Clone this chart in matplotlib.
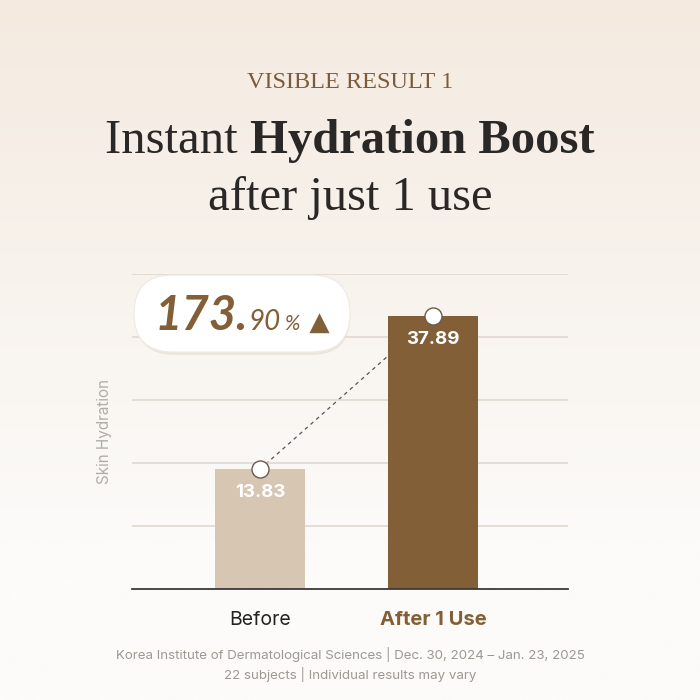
import numpy as np
import matplotlib
matplotlib.use("Agg")
import matplotlib.pyplot as plt
from matplotlib.patches import FancyBboxPatch
from matplotlib.offsetbox import TextArea, HPacker, AnnotationBbox

categories = ["Before", "After 1 Use"]
values = [13.83, 37.89]
increase_whole = "173"
increase_frac = ".90"
y_label = "Skin Hydration"
footer = ["Korea Institute of Dermatological Sciences | Dec. 30, 2024 \u2013 Jan. 23, 2025",
          "22 subjects | Individual results may vary"]

brown = "#835f38"
light = "#d6c6b2"
sans = ["Inter", "DejaVu Sans"]
serif = ["Liberation Serif", "DejaVu Serif"]

fig = plt.figure(figsize=(7, 7), dpi=100)

# background gradient, beige at top to off-white at bottom
bg = fig.add_axes([0, 0, 1, 1])
grad = np.linspace(0, 1, 256).reshape(-1, 1)
top_c = np.array([0xf4, 0xea, 0xe0]) / 255
bot_c = np.array([0xfc, 0xfb, 0xf9]) / 255
t = np.clip(grad * 1.3, 0, 1)
img = top_c * (1 - t[..., None]) + bot_c * t[..., None]
bg.imshow(img, aspect="auto", extent=[0, 1, 0, 1])
bg.axis("off")

# titles
fig.text(0.5, 1 - 83 / 700, "VISIBLE RESULT 1", ha="center", va="center",
         fontsize=17.5, color="#7a5c3a", family=serif)

p1 = TextArea("Instant ", textprops=dict(fontsize=35, color="#2a2826", family=serif))
p2 = TextArea("Hydration Boost", textprops=dict(fontsize=35, color="#2a2826", family=serif,
                                                  fontweight="bold"))
row = HPacker(children=[p1, p2], align="baseline", pad=0, sep=0)
fig.add_artist(AnnotationBbox(row, (0.5, 1 - 141 / 700), xycoords="figure fraction",
                              frameon=False, box_alignment=(0.5, 0.5)))
fig.text(0.5, 1 - 198 / 700, "after just 1 use", ha="center", va="center",
         fontsize=35, color="#2a2826", family=serif)

# chart
ax = fig.add_axes([132 / 700, 111 / 700, 436 / 700, 315 / 700])
ax.patch.set_alpha(0)
ymin, ymax = -5.0, 44.5
x = np.arange(len(categories))
ax.bar(x, values, width=0.52, color=[light, brown], zorder=2, bottom=0)
ax.bar(x, [0 - ymin] * 2, bottom=ymin, width=0.52, color=[light, brown], zorder=2)
ax.set_xlim(-0.74, 1.78)
ax.set_ylim(ymin, ymax)
ax.set_yticks(np.linspace(ymin, ymax, 6)[1:])
ax.yaxis.grid(True, color="#ddd6ce", linewidth=1.1, zorder=0)
ax.tick_params(left=False, bottom=False, labelleft=False)
for s in ["top", "right", "left"]:
    ax.spines[s].set_visible(False)
ax.spines["bottom"].set_color("#3a3a3a")
ax.spines["bottom"].set_linewidth(1.3)
ax.spines["bottom"].set_zorder(3)
ax.set_xticks(x)
ax.set_xticklabels(categories, family=sans)
labs = ax.get_xticklabels()
labs[0].set(fontsize=14, color="#222222")
labs[1].set(fontsize=14.5, color=brown, fontweight="bold")
ax.tick_params(axis="x", pad=12)

ax.plot(x, values, linestyle=(0, (3, 3)), color="#555555", linewidth=0.9, zorder=1.5)
ax.scatter(x, values, s=150, facecolor="white", edgecolor="#6b5b4b", linewidth=1.0, zorder=4)
for xi, v in zip(x, values):
    ax.annotate(f"{v:.2f}", (xi, v), xytext=(0, -17), textcoords="offset points",
                ha="center", va="center", color="white", fontsize=13.5, fontweight="bold",
                family=sans, zorder=5)

fig.text(104 / 700, 1 - 432 / 700, y_label, rotation=90, ha="center", va="center",
         fontsize=11, color="#b3aca5", family=sans)

# pill callout
shadow = FancyBboxPatch((136 / 700, 1 - 355 / 700), 214 / 700, 77 / 700,
                        boxstyle="round,pad=0,rounding_size=0.054", transform=fig.transFigure,
                        facecolor="#d6ccc0", edgecolor="none", alpha=0.35, zorder=5)
pill = FancyBboxPatch((134 / 700, 1 - 352 / 700), 216 / 700, 77 / 700,
                      boxstyle="round,pad=0,rounding_size=0.055", transform=fig.transFigure,
                      facecolor="white", edgecolor="#efe9e2", linewidth=0.8, zorder=6)
fig.add_artist(shadow)
fig.add_artist(pill)
q1 = TextArea(increase_whole + ".", textprops=dict(fontsize=34, color=brown, family=["Lato"] + sans,
                                                    style="italic", fontweight="bold"))
q2 = TextArea(increase_frac[1:], textprops=dict(fontsize=20, color=brown, family=["Lato"] + sans,
                                                 style="italic"))
q3 = TextArea(" %", textprops=dict(fontsize=15, color=brown, family=["Lato"] + sans,
                                   style="italic"))
q4 = TextArea(" \u25B2", textprops=dict(fontsize=19, color=brown, family=["DejaVu Sans"]))
row2 = HPacker(children=[q1, q2, q3, q4], align="baseline", pad=0, sep=0)
ab = AnnotationBbox(row2, (242 / 700, 1 - 316 / 700), xycoords="figure fraction",
                    frameon=False, box_alignment=(0.5, 0.5))
ab.set_zorder(7)
fig.add_artist(ab)

fig.text(0.5, 1 - 654 / 700, footer[0], ha="center", va="center", fontsize=9.6,
         color="#9e9892", family=sans)
fig.text(0.5, 1 - 674 / 700, footer[1], ha="center", va="center", fontsize=9.6,
         color="#9e9892", family=sans)

fig.savefig("out.png", dpi=100)
